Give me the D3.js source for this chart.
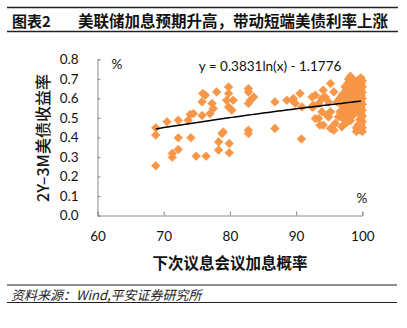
<!DOCTYPE html>
<html><head><meta charset="utf-8">
<script src="https://cdn.jsdelivr.net/npm/d3@7"></script>
<style>
html,body{margin:0;padding:0;background:#fff;}
svg{display:block;}
</style></head>
<body>
<script>
// ---- data ----
const title = "美联储加息预期升高，带动短端美债利率上涨";
const figLabel = "图表2";
const xTitle = "下次议息会议加息概率";
const yTitle = "2Y–3M美债收益率";
const source = "资料来源：Wind,平安证券研究所";
const equation = "y = 0.3831ln(x) - 1.1776";
const trendCoef = [0.3831, -1.1776];
const xTicks = [60, 70, 80, 90, 100];
const yTicks = [0.0, 0.1, 0.2, 0.3, 0.4, 0.5, 0.6, 0.7, 0.8];

// rate-hike probability (%)
const prob = [
  68.8, 68.8, 68.8, 70.5, 72.2, 72.2, 72.2, 71.3, 71.3, 74.0, 74.5, 73.7, 74.1, 75.8, 74.9, 76.4,
  76.3, 75.8, 75.9, 78.0, 77.3, 77.5, 77.0, 79.8, 79.8, 79.5, 80.5, 79.8, 80.3, 79.0, 78.8, 78.3,
  79.9, 78.3, 79.9, 82.8, 82.8, 83.6, 83.1, 82.8, 82.8, 82.8,
  86.8, 88.6, 89.4, 89.6, 89.9, 90.6, 90.9, 92.4, 92.6, 92.4, 93.9, 92.9, 93.6, 94.7, 95.2, 86.8, 90.8,
  95.2, 94.1, 95.7, 92.9, 94.4, 93.4, 94.9, 96.2, 92.6, 93.9, 95.2, 93.4, 94.9, 96.4, 94.1, 95.9, 95.7, 96.9,
  98.2, 97.9, 98.6,
  97.4, 97.4, 97.4, 97.4, 97.4, 97.4, 97.4, 97.4,
  97.9, 97.9, 97.9, 97.9, 97.9, 97.9, 97.9,
  98.5, 98.5, 98.5, 98.5, 98.5, 98.5, 98.5,
  99.1, 99.1, 99.1, 99.1, 99.1, 99.1, 99.1,
  99.6, 99.6, 99.6, 99.6, 99.6, 99.6, 99.6, 99.6, 99.6,
  100, 100, 100, 100, 100, 100, 100, 100, 100, 100,
  97.6, 97.6, 97.6, 97.6, 97.6, 97.6, 97.6,
  98.2, 98.2, 98.2, 98.2, 98.2, 98.2, 98.2,
  98.8, 98.8, 98.8, 98.8, 98.8, 98.8,
  99.4, 99.4, 99.4, 99.4, 99.4, 99.4, 99.4, 99.4,
  99.8, 99.8, 99.8, 99.8, 99.8, 99.8, 99.8, 99.8, 99.8,
  97.0, 97.0, 97.0, 96.6, 96.6
];
// 2Y-3M treasury spread (%)
const spread = [
  0.449, 0.412, 0.255, 0.480, 0.488, 0.398, 0.338, 0.318, 0.298, 0.517, 0.522, 0.488, 0.398, 0.512, 0.304, 0.304,
  0.616, 0.582, 0.625, 0.633, 0.574, 0.548, 0.522, 0.658, 0.625, 0.590, 0.590, 0.556, 0.539, 0.428, 0.420, 0.377,
  0.369, 0.335, 0.321, 0.650, 0.633, 0.607, 0.590, 0.574, 0.437, 0.420,
  0.582, 0.590, 0.590, 0.599, 0.574, 0.625, 0.556, 0.607, 0.565, 0.556, 0.599, 0.497, 0.463, 0.514, 0.446, 0.446, 0.392,
  0.676, 0.642, 0.633, 0.616, 0.607, 0.574, 0.582, 0.582, 0.556, 0.531, 0.531, 0.497, 0.505, 0.505, 0.463, 0.471, 0.437, 0.454,
  0.713, 0.698, 0.698,
  0.660, 0.630, 0.600, 0.570, 0.540, 0.510, 0.490, 0.470,
  0.680, 0.650, 0.620, 0.590, 0.560, 0.530, 0.500,
  0.690, 0.660, 0.630, 0.600, 0.570, 0.540, 0.510,
  0.680, 0.650, 0.620, 0.590, 0.560, 0.450, 0.430,
  0.670, 0.640, 0.610, 0.580, 0.550, 0.520, 0.490, 0.460, 0.440,
  0.690, 0.660, 0.630, 0.600, 0.570, 0.540, 0.510, 0.480, 0.450, 0.430,
  0.645, 0.615, 0.585, 0.555, 0.525, 0.495, 0.475,
  0.665, 0.635, 0.605, 0.575, 0.545, 0.515, 0.485,
  0.675, 0.645, 0.615, 0.585, 0.555, 0.525,
  0.695, 0.665, 0.635, 0.605, 0.575, 0.545, 0.465, 0.440,
  0.705, 0.675, 0.645, 0.615, 0.585, 0.555, 0.525, 0.495, 0.465,
  0.620, 0.560, 0.500, 0.600, 0.530
];

// ---- drawing ----
const W = 407, H = 328;
const svg = d3.select("body").append("svg").attr("width", W).attr("height", H);
const CJK = "'Noto Sans CJK SC','Noto Sans',sans-serif";
const NUM = "Lato,'Open Sans',sans-serif";
const axisColor = "#8c8c8c";
const orange = "#F79646";

// header
svg.append("line").attr("x1", 7).attr("x2", 398).attr("y1", 7.5).attr("y2", 7.5).attr("stroke", "#222").attr("stroke-width", 1.3);
svg.append("line").attr("x1", 7).attr("x2", 398).attr("y1", 31.5).attr("y2", 31.5).attr("stroke", "#222").attr("stroke-width", 1.3);
svg.append("text").attr("x", 12).attr("y", 20).attr("dominant-baseline", "central")
  .style("font-family", CJK).style("font-weight", "bold").style("font-size", "15px").attr("fill", "#111").text(figLabel);
svg.append("text").attr("x", 78).attr("y", 20).attr("dominant-baseline", "central")
  .style("font-family", CJK).style("font-weight", "bold").style("font-size", "15.5px").attr("fill", "#111").text(title);

// scales
const x = d3.scaleLinear().domain([60, 100]).range([97.5, 362.3]);
const y = d3.scaleLinear().domain([0, 0.8]).range([215.5, 59.3]);

// axes
const gx = svg.append("g").attr("transform", `translate(0,${y(0)})`)
  .call(d3.axisBottom(x).tickValues(xTicks).tickSize(-4).tickPadding(18).tickFormat(d3.format("d")));
const gy = svg.append("g").attr("transform", `translate(${x(60)},0)`)
  .call(d3.axisLeft(y).tickValues(yTicks).tickSize(-3).tickPadding(19).tickFormat(d3.format(".1f")));
[gx, gy].forEach(g => {
  g.select(".domain").attr("stroke", axisColor).attr("stroke-width", 1);
  g.selectAll(".tick line").attr("stroke", axisColor);
  g.selectAll(".tick text").style("font-family", NUM).style("font-size", "13.5px").attr("fill", "#111");
});
gx.selectAll(".tick text").attr("dy", "0.55em");

// axis titles
svg.append("text").attr("x", 230).attr("y", 262).attr("text-anchor", "middle").attr("dominant-baseline", "central")
  .style("font-family", CJK).style("font-weight", "bold").style("font-size", "15.5px").attr("fill", "#111").text(xTitle);
svg.append("text").attr("transform", "translate(42,138) rotate(-90)").attr("text-anchor", "middle").attr("dominant-baseline", "central")
  .style("font-family", CJK).style("font-weight", "500").style("font-size", "16px").attr("fill", "#111").text(yTitle);

// unit marks
svg.append("text").attr("x", 117).attr("y", 64).attr("text-anchor", "middle").attr("dominant-baseline", "central")
  .style("font-family", NUM).style("font-size", "13.5px").attr("fill", "#111").text("%");
svg.append("text").attr("x", 362).attr("y", 198).attr("text-anchor", "middle").attr("dominant-baseline", "central")
  .style("font-family", NUM).style("font-size", "13.5px").attr("fill", "#111").text("%");

// points
const pts = prob.map((p, i) => [p, spread[i]]);
const r = 4.3;
svg.append("g").selectAll("path").data(pts).join("path")
  .attr("d", `M0,${-r}L${r},0L0,${r}L${-r},0Z`)
  .attr("transform", d => `translate(${x(d[0])},${y(d[1])})`)
  .attr("fill", orange).attr("stroke", orange).attr("stroke-width", 0.7);

// trend line (from the fitted equation shown on the chart)
const xMin = d3.min(prob), xMax = d3.max(prob);
const trendX = d3.range(xMin, xMax + 0.01, 0.5);
const line = d3.line().x(d => x(d)).y(d => y(trendCoef[0] * Math.log(d) + trendCoef[1]));
svg.append("path").datum(trendX).attr("d", line).attr("fill", "none").attr("stroke", "#000").attr("stroke-width", 1.5);

// equation
svg.append("text").attr("x", 270).attr("y", 66).attr("text-anchor", "middle").attr("dominant-baseline", "central")
  .style("font-family", NUM).style("font-size", "13.5px").attr("fill", "#111").text(equation);

// footer
svg.append("line").attr("x1", 7).attr("x2", 397).attr("y1", 285).attr("y2", 285).attr("stroke", "#222").attr("stroke-width", 1.2);
svg.append("line").attr("x1", 7).attr("x2", 397).attr("y1", 302.5).attr("y2", 302.5).attr("stroke", "#222").attr("stroke-width", 1.2);
svg.append("text").attr("x", 11).attr("y", 294).attr("dominant-baseline", "central")
  .style("font-family", CJK).style("font-style", "italic").style("font-size", "13px").attr("fill", "#222").text(source);
</script>
</body></html>
